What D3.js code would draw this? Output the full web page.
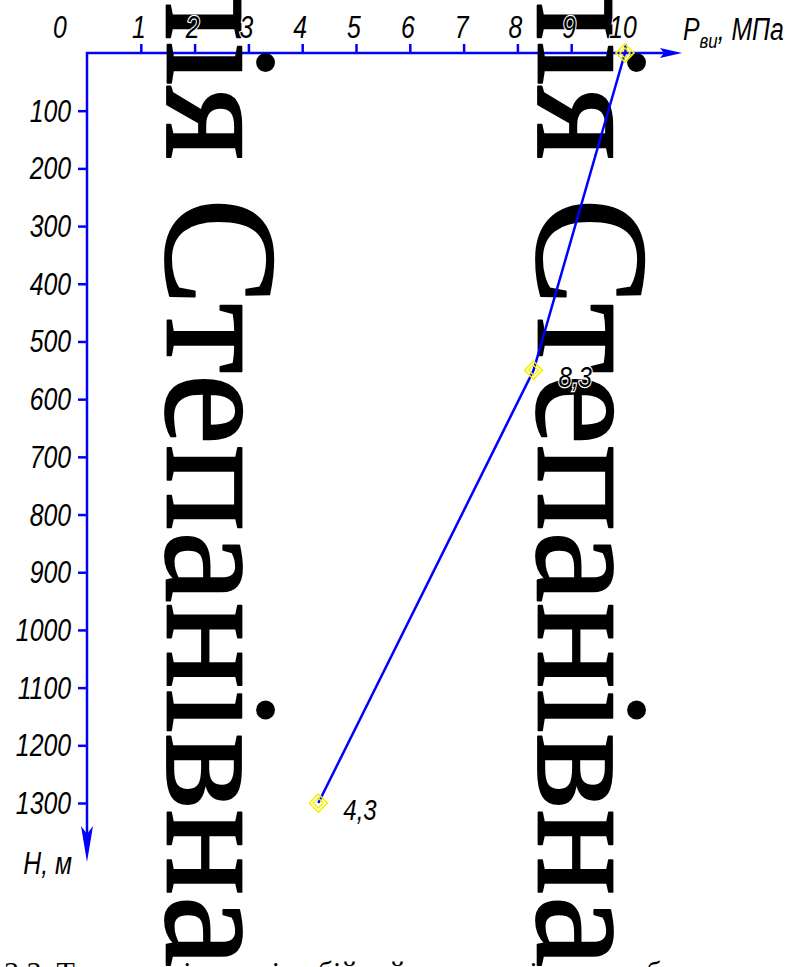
<!DOCTYPE html>
<html>
<head>
<meta charset="utf-8">
<script src="https://cdn.jsdelivr.net/npm/d3@7"></script>
<style>
html,body{margin:0;padding:0;background:#fff;overflow:hidden;}
svg{display:block;}
</style>
</head>
<body>
<svg id="chart" width="798" height="967"></svg>
<script>
// ---- data ----
const pressures = [10, 8.3, 4.3];          // P_ви, МПа
const depths = [0, 550, 1300];             // H, м
const pointLabels = ["", "8,3", "4,3"];
const xTicks = [1, 2, 3, 4, 5, 6, 7, 8, 9, 10];
const yTicks = [100, 200, 300, 400, 500, 600, 700, 800, 900, 1000, 1100, 1200, 1300];
const xTitle = "P";
const xTitleSub = "ви";
const xTitleRest = ", МПа";
const yTitle = "H, м";
const watermarkA = "Наталія";
const watermarkB = "Степанівна";
const caption = "3.3.  Тиск нагнітання і вибійний тиск на різних глибинах свердловини";

// ---- layout ----
const svg = d3.select("#chart");
const blue = "#0000ff";
const x = d3.scaleLinear().domain([0, 10]).range([87, 625]);
const y = d3.scaleLinear().domain([0, 1300]).range([53, 803]);
const labelFont = "'Liberation Sans', Arial, sans-serif";

const axes = svg.append("g");
// x axis (top)
const gx = axes.append("g").attr("transform", `translate(0,${y(0)})`)
  .call(d3.axisTop(x).tickValues(xTicks).tickSize(9).tickFormat(""));
gx.select(".domain").remove();
gx.selectAll(".tick line").attr("stroke", blue).attr("stroke-width", 2.5);
axes.append("line").attr("x1", x(0) - 1).attr("x2", 668).attr("y1", y(0)).attr("y2", y(0))
  .attr("stroke", blue).attr("stroke-width", 2.5);
axes.append("path").attr("d", `M660,${y(0)-5} L682,${y(0)} L660,${y(0)+5} L664,${y(0)} Z`).attr("fill", blue);

// y axis (left)
const gy = axes.append("g").attr("transform", `translate(${x(0)},0)`)
  .call(d3.axisLeft(y).tickValues(yTicks).tickSize(9).tickFormat(""));
gy.select(".domain").remove();
gy.selectAll(".tick line").attr("stroke", blue).attr("stroke-width", 2.5);
axes.append("line").attr("x1", x(0)).attr("x2", x(0)).attr("y1", y(0) - 1).attr("y2", 845)
  .attr("stroke", blue).attr("stroke-width", 2.5);
axes.append("path").attr("d", `M${x(0)-6},826 L${x(0)},862 L${x(0)+6},826 L${x(0)},834 Z`).attr("fill", blue);

// ---- watermark ----
const wm = svg.append("g");
[167, 538].forEach(bx => {
  const g = wm.append("g").attr("transform", `translate(${bx},0) rotate(90)`);
  [[watermarkA, 160, "end"], [watermarkB, 198, "start"]].forEach(([t, px, anc]) => {
    g.append("text").attr("x", px).attr("y", 0).attr("text-anchor", anc)
      .attr("font-family", "'Liberation Serif', 'Times New Roman', serif").attr("font-size", 161)
      .attr("fill", "#000").attr("stroke", "#000").attr("stroke-width", 1.8)
      .attr("stroke-linejoin", "round").text(t);
  });
});

// ---- tick labels ----
function condensed(sel, px, py, anchor) {
  return sel.append("text")
    .attr("transform", `translate(${px},${py}) scale(0.8,1)`)
    .attr("text-anchor", anchor)
    .attr("font-family", labelFont).attr("font-style", "italic").attr("font-size", 31)
    .attr("fill", "#000").attr("stroke", "#fff").attr("stroke-width", 2.5)
    .attr("paint-order", "stroke");
}
const lab = svg.append("g");
xTicks.forEach(t => condensed(lab, x(t) - 2, 38, "middle").text(t));
condensed(lab, 60, 38, "middle").text(0);
yTicks.forEach(t => condensed(lab, 71, y(t) + 11, "end").text(t));

// axis titles
const xt = condensed(lab, 683, 40, "start");
xt.append("tspan").text(xTitle);
xt.append("tspan").attr("font-size", 21).attr("dy", 8).text(xTitleSub);
xt.append("tspan").attr("dy", -8).text(xTitleRest);
condensed(lab, 72, 874, "end").text(yTitle);

// ---- data line ----
const pts = pressures.map((p, i) => ({ p, h: depths[i], label: pointLabels[i] }));
svg.append("path").datum(pts)
  .attr("d", d3.line().x(d => x(d.p)).y(d => y(d.h)))
  .attr("fill", "none").attr("stroke", blue).attr("stroke-width", 2.5);

const mk = svg.append("g").selectAll("g").data(pts).join("g")
  .attr("transform", d => `translate(${x(d.p)},${y(d.h)})`);
mk.append("path").attr("d", "M0,-9 L9,0 L0,9 L-9,0 Z").attr("fill", "none").attr("stroke", "#f2f200").attr("stroke-width", 1.6);
mk.append("path").attr("d", "M0,-5 L5,0 L0,5 L-5,0 Z").attr("fill", "none").attr("stroke", "#f2f200").attr("stroke-width", 1.4);

pts.filter(d => d.label).forEach(d => {
  condensed(lab, x(d.p) + 25, y(d.h) + 17, "start").attr("font-size", 30).text(d.label);
});
lab.raise();

// ---- caption (cut off at bottom) ----
svg.append("text").attr("x", 4).attr("y", 982)
  .attr("font-family", "'Liberation Serif', 'Times New Roman', serif").attr("font-size", 30)
  .attr("fill", "#000").text(caption);
</script>
</body>
</html>
